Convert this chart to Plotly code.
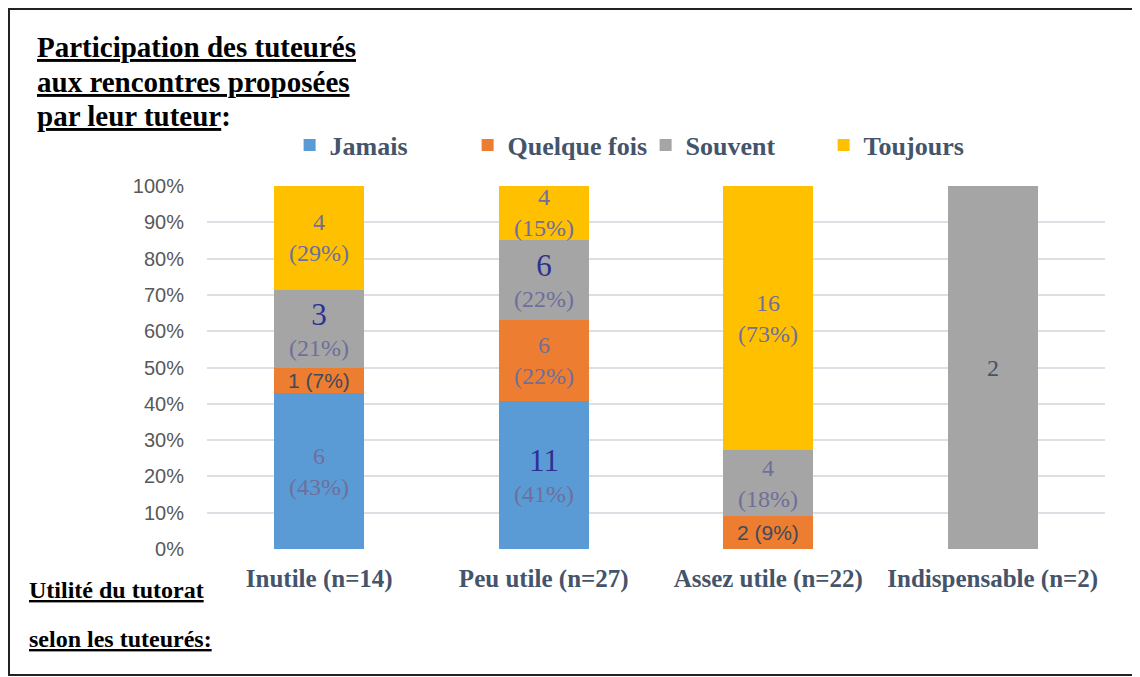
import plotly.graph_objects as go

categories = ["Inutile", "Peu utile", "Assez utile", "Indispensable"]
series = ["Jamais", "Quelque fois", "Souvent", "Toujours"]
jamais = [6, 11, 0, 0]
quelque_fois = [1, 6, 2, 0]
souvent = [3, 6, 4, 2]
toujours = [4, 4, 16, 0]

values = [jamais, quelque_fois, souvent, toujours]
colors = ["#5b9bd5", "#ed7d31", "#a5a5a5", "#ffc000"]
totals = [sum(v[i] for v in values) for i in range(len(categories))]
xlabels = [f"{c} (n={n})" for c, n in zip(categories, totals)]

# label style per segment (series x category): serif / big / sans / plain
label_style = [
    ["serif", "big", None, None],
    ["sans", "serif", "sans", None],
    ["big", "big", "serif", "plain"],
    ["serif", "serif", "serif", None],
]

SERIF = "Liberation Serif, Times New Roman, serif"
SANS = "Liberation Sans, Arial, sans-serif"
GREY_TXT = "#6e6f9c"
BLUE_TXT = "#2e3192"
DARK = "#44546a"

fig = go.Figure()
for name, vals, col in zip(series, values, colors):
    fig.add_trace(go.Bar(
        name=name, x=xlabels, y=vals,
        marker=dict(color=col, line=dict(width=0)),
        width=0.4, hoverinfo="skip",
    ))

annotations = []
for i, lab in enumerate(xlabels):
    cum = 0
    for s, vals in enumerate(values):
        v = vals[i]
        if v == 0:
            continue
        mid = (cum + v / 2) / totals[i]
        cum += v
        pct = round(100 * v / totals[i])
        st = label_style[s][i]
        if st == "serif":
            txt = f"{v}<br>({pct}%)"
            font = dict(family=SERIF, size=24, color=GREY_TXT)
        elif st == "big":
            txt = (f"<span style='font-size:31px;color:{BLUE_TXT}'>{v}</span>"
                   f"<br>({pct}%)")
            font = dict(family=SERIF, size=24, color=GREY_TXT)
        elif st == "sans":
            txt = f"{v} ({pct}%)"
            font = dict(family=SANS, size=21, color="#404a5c")
        else:
            txt = f"{v}"
            font = dict(family=SERIF, size=24, color=DARK)
        annotations.append(dict(x=lab, y=mid, xref="x", yref="y", text=txt,
                                showarrow=False, font=font, align="center"))

title_font = dict(family=SERIF, size=29, color="black")
title_lines = ["<b><u>Participation des tuteurés</u></b>",
               "<b><u>aux rencontres proposées</u></b>",
               "<b><u>par leur tuteur</u>:</b>"]
for line, shift in zip(title_lines, [139, 104, 70]):
    annotations.append(dict(
        x=0, y=1, xref="paper", yref="paper", xanchor="left", yanchor="middle",
        xshift=-172, yshift=shift, showarrow=False, font=title_font, text=line,
    ))
side_font = dict(family=SERIF, size=24, color="black")
annotations.append(dict(
    x=0, y=0, xref="paper", yref="paper", xanchor="left", yanchor="middle",
    xshift=-180, yshift=-41, showarrow=False, font=side_font,
    text="<b><u>Utilité du tutorat</u></b>",
))
annotations.append(dict(
    x=0, y=0, xref="paper", yref="paper", xanchor="left", yanchor="middle",
    xshift=-180, yshift=-90, showarrow=False, font=side_font,
    text="<b><u>selon les tuteurés:</u></b>",
))

fig.update_layout(
    width=1132, height=669,
    barmode="stack", barnorm="fraction",
    paper_bgcolor="white", plot_bgcolor="white",
    margin=dict(l=199, r=35, t=178, b=128),
    showlegend=True,
    legend=dict(
        orientation="h", x=0.092, xanchor="left", y=1.113, yanchor="middle",
        font=dict(family=SERIF, size=26, color=DARK, weight="bold"),
        traceorder="normal", itemclick=False,
        entrywidth=133, entrywidthmode="pixels",
    ),
    xaxis=dict(
        showgrid=False, showline=False, ticks="",
        tickfont=dict(family=SERIF, size=25, color=DARK, weight="bold"),
        ticklabelstandoff=12,
    ),
    yaxis=dict(
        range=[0, 1], dtick=0.1, tickformat=".0%",
        gridcolor="#dcdfe4", gridwidth=1.5, zeroline=False, showline=False,
        tickfont=dict(family=SANS, size=20, color="#595959"),
        ticklabelstandoff=22,
    ),
    annotations=annotations,
    shapes=[dict(type="rect", xref="paper", yref="paper",
                 x0=-0.2205, x1=1.0356, y0=-0.3471, y1=1.4876,
                 line=dict(color="#222222", width=2))],
)

fig.write_html("out.html")
